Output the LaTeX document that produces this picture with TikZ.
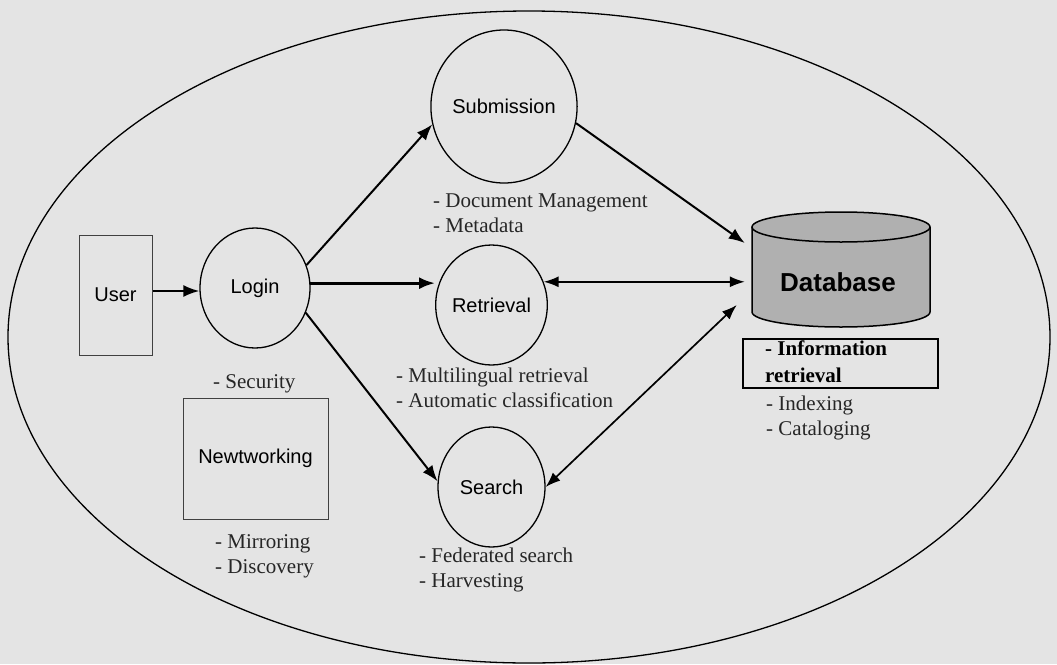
\documentclass[tikz,border=0pt]{standalone}
\usepackage{fontspec}
\setmainfont{Liberation Serif}
\newfontfamily\lab{Liberation Sans}
\usetikzlibrary{arrows.meta,shapes.geometric}
\definecolor{paper}{RGB}{228,228,228}
\definecolor{dbfill}{RGB}{176,176,176}
\begin{document}
\begin{tikzpicture}[x=1pt,y=-1pt,
 lbl/.style={font=\lab\fontsize{20}{24}\selectfont},
 proc/.style={ellipse, draw, line width=1.3pt, inner sep=0pt, lbl},
 boxn/.style={rectangle, draw=black!75, line width=1pt, inner sep=0pt, lbl},
 note/.style={anchor=base west, inner sep=0pt, font=\fontsize{21}{25}\selectfont, text=black!85},
 boldnote/.style={note, font=\bfseries\fontsize{21}{25}\selectfont, text=black},
 arr/.style={line width=2pt, -{Latex[length=16pt,width=12pt]}},
 darr/.style={line width=1.7pt, {Latex[length=15pt,width=11pt]}-{Latex[length=15pt,width=11pt]}},
]
\fill[paper] (0,0) rectangle (1057,664);
\useasboundingbox (0,0) rectangle (1057,664);
% outer scope
\draw[line width=1.3pt] (529,337) ellipse [x radius=521pt, y radius=326pt];
% database cylinder
\fill[dbfill] (752,227) rectangle (930,312);
\fill[dbfill] (841,312) ellipse [x radius=89pt, y radius=15pt];
\draw[line width=1.5pt] (752,227) -- (752,312) arc[start angle=180, end angle=360, x radius=89pt, y radius=15pt] -- (930,227);
\draw[line width=1.5pt, fill=dbfill] (841,227) ellipse [x radius=89pt, y radius=15pt];
% nodes
\node[boxn, minimum width=73pt, minimum height=120pt] (user) at (115.5,295) {User};
\node[proc, minimum width=110pt, minimum height=120pt] (login) at (255,288) {Login};
\node[proc, minimum width=138pt, minimum height=153pt] (sub) at (504,106.5) {Submission};
\node[proc, minimum width=109pt, minimum height=120pt] (ret) at (491.5,305) {Retrieval};
\node[proc, minimum width=107pt, minimum height=120pt] (search) at (491.5,487) {Search};
\node[boxn, minimum width=145pt, minimum height=121pt] (net) at (255.5,458.5) {Newtworking};
\node[font=\lab\bfseries\fontsize{26}{30}\selectfont, minimum width=186pt, minimum height=140pt, inner sep=0pt] (db) at (838,282) {Database};
\node[draw, line width=1.5pt, minimum width=195pt, minimum height=49pt, inner sep=0pt] (info) at (840.5,363.5) {};
% notes
\node[note] (n1) at (433,207) {- Document Management};
\node[note] (n2) at (433,232) {- Metadata};
\node[note] (n3) at (213,388) {- Security};
\node[note] (n4) at (396,382) {- Multilingual retrieval};
\node[note] (n5) at (396,407) {- Automatic classification};
\node[note] (n6) at (419,562) {- Federated search};
\node[note] (n7) at (419,587) {- Harvesting};
\node[note] (n8) at (215,548) {- Mirroring};
\node[note] (n9) at (215,573) {- Discovery};
\node[boldnote] (n10) at (765,355) {- Information};
\node[boldnote] (n11) at (765,382) {retrieval};
\node[note] (n12) at (766,410) {- Indexing};
\node[note] (n13) at (766,435) {- Cataloging};
% connectors
\draw[arr] ([yshift=4pt]user.east) -- ([yshift=4pt]user.east -| login.west);
\draw[arr] (login.24) -- (sub.194);
\draw[arr, line width=2.8pt] (login.5) -- (login.5 -| ret.west);
\draw[arr] (login.-26) -- (search.174);
\draw[arr] (sub.-13) -- ([yshift=39pt]db.west);
\draw[darr] (ret.24) -- (ret.24 -| db.west);
\draw[darr] (search.east) -- ([xshift=-8pt,yshift=-23pt]db.west);
\end{tikzpicture}
\end{document}
